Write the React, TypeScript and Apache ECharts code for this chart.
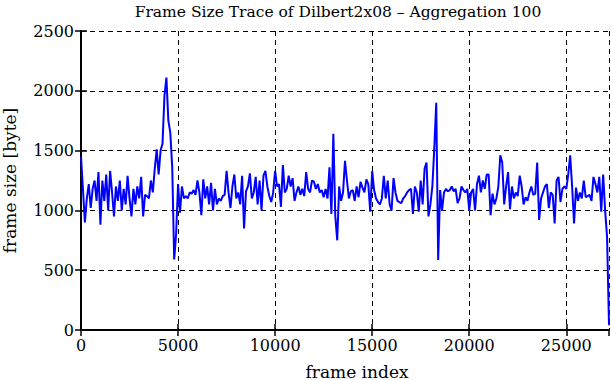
import React, { useEffect, useRef } from "react";
import * as echarts from "echarts";

const titleText = "Frame Size Trace of Dilbert2x08 \u2013 Aggregation 100";
const xName = "frame index";
const yName = "frame size [byte]";
const aggregation = 100;
const xTicks = [0, 5000, 10000, 15000, 20000, 25000];
const yTicks = [0, 500, 1000, 1500, 2000, 2500];
const frameSizes = [
  1450, 1180, 900, 1100, 1220, 1020, 1180, 1250, 1080, 1320,
  880, 1250, 1080, 1300, 1000, 1330, 1150, 950, 1200, 1080,
  1250, 1000, 1180, 1050, 1290, 1100, 950, 1180, 1050, 1200,
  1100, 1280, 950, 1130, 1120, 1100, 1250, 1150, 1350, 1510,
  1300, 1500, 1560, 1960, 2110, 1750, 1650, 1360, 590, 800,
  1220, 980, 1200, 1100, 1120, 1100, 1150, 1140, 1170, 1130,
  1250, 1150, 960, 1260, 1100, 1200, 1050, 1230, 1000, 1180,
  1050, 1100, 1080, 1120, 1130, 1330, 1150, 1020, 1200, 1300,
  1100, 1150, 1050, 1290, 850, 1160, 1200, 1310, 1100, 1150,
  1280, 1050, 1250, 1000, 1290, 1330, 1200, 1120, 1070, 1150,
  1330, 1200, 1220, 1030, 1380, 1150, 1180, 1290, 1200, 1270,
  1080, 1150, 1200, 1130, 1180, 1120, 1320, 1180, 1150, 1250,
  1240, 1180, 1220, 1150, 1170, 1110, 1180, 1100, 1360, 970,
  1640, 950, 750, 1200, 1080, 1150, 1415, 1250, 1100, 1160,
  1170, 1080, 1200, 1110, 1240, 1190, 1150, 1260, 1220, 990,
  1330, 1170, 1100, 1070, 1050, 1100, 1290, 1100, 1250, 1050,
  1000, 1270, 1150, 1080, 1070, 1060, 1100, 1120, 1150, 1170,
  1180, 970, 1200, 1150, 990, 1250, 1050, 1350, 1400, 950,
  1050, 1200, 1520, 1900, 585, 1170, 1000, 1150, 1180, 1160,
  1170, 1200, 1160, 1180, 1060, 1100, 1200, 1170, 1150, 1180,
  1000, 1150, 1180, 1000, 1220, 1290, 1150, 1250, 1180, 1300,
  1300, 960, 1140, 1050, 1100, 1200, 1460, 1400, 1050, 1200,
  1320, 1010, 1200, 1100, 1150, 1120, 1290, 1200, 1050, 1110,
  1080, 1150, 1200, 1130, 1140, 1400, 920, 1100, 1150, 1200,
  1220, 1020, 1150, 1130, 890, 1250, 1280, 1070, 1180, 1200,
  1180, 1300, 1460, 1200, 890, 1190, 1080, 1150, 1100, 1250,
  1110, 1120, 1130, 1080, 1280, 1220, 1150, 1280, 990, 1300,
  1000, 780, 40,
];

const FONT = "DejaVu Serif";

export default function App() {
  const ref = useRef<HTMLDivElement>(null);
  useEffect(() => {
    if (!ref.current) return;
    const chart = echarts.init(ref.current, undefined, { renderer: "svg" });
    const data = frameSizes.map((v, i) => [i * aggregation, v]);
    const xMax = (frameSizes.length - 1) * aggregation;
    const xInterval = xTicks[1] - xTicks[0];
    const yInterval = yTicks[1] - yTicks[0];
    const axisLine = { show: true, lineStyle: { color: "#000", width: 2 } };
    const tick = { show: true, inside: true, length: 6, lineStyle: { color: "#000", width: 1.5 } };
    const grid = { show: true, lineStyle: { color: "#000", width: 1, type: [5, 4] } };
    chart.setOption({
      animation: false,
      backgroundColor: "#fff",
      title: {
        text: titleText,
        left: 333,
        top: -1,
        textAlign: "center",
        textStyle: { fontFamily: FONT, fontSize: 15.5, fontWeight: "normal", color: "#000" },
      },
      grid: { left: 81, right: 2, top: 31, bottom: 50, containLabel: false, outerBoundsMode: "none" },
      xAxis: [
        {
          type: "value",
          position: "bottom",
          min: xTicks[0],
          max: xMax,
          interval: xInterval,
          name: xName,
          nameLocation: "middle",
          nameGap: 33,
          nameTextStyle: { fontFamily: FONT, fontSize: 17, color: "#000", padding: [0, 0, 0, 24] },
          axisLine,
          axisTick: tick,
          splitLine: grid,
          axisLabel: {
            fontFamily: FONT,
            fontSize: 16,
            color: "#000",
            margin: 7,
            showMaxLabel: false,
            formatter: (v: number) => (xTicks.includes(v) ? String(v) : ""),
          },
        },
        {
          type: "value",
          position: "top",
          min: xTicks[0],
          max: xMax,
          interval: xInterval,
          axisLine,
          axisTick: tick,
          splitLine: { show: false },
          axisLabel: { show: false },
        },
      ],
      yAxis: [
        {
          type: "value",
          position: "left",
          min: yTicks[0],
          max: yTicks[yTicks.length - 1],
          interval: yInterval,
          name: yName,
          nameLocation: "middle",
          nameGap: 63,
          nameRotate: 90,
          nameTextStyle: { fontFamily: FONT, fontSize: 17, color: "#000" },
          axisLine,
          axisTick: tick,
          splitLine: grid,
          axisLabel: {
            fontFamily: FONT,
            fontSize: 16,
            color: "#000",
            margin: 7,
            formatter: (v: number) => String(v),
          },
        },
        {
          type: "value",
          position: "right",
          min: yTicks[0],
          max: yTicks[yTicks.length - 1],
          interval: yInterval,
          axisLine,
          axisTick: tick,
          splitLine: { show: false },
          axisLabel: { show: false },
        },
      ],
      series: [
        {
          type: "line",
          data,
          xAxisIndex: 0,
          yAxisIndex: 0,
          showSymbol: false,
          symbol: "none",
          lineStyle: { color: "#0000ff", width: 2 },
          z: 3,
        },
      ],
    });
    return () => chart.dispose();
  }, []);
  return <div ref={ref} style={{ width: 611, height: 380, position: "absolute", left: 0, top: 0 }} />;
}
